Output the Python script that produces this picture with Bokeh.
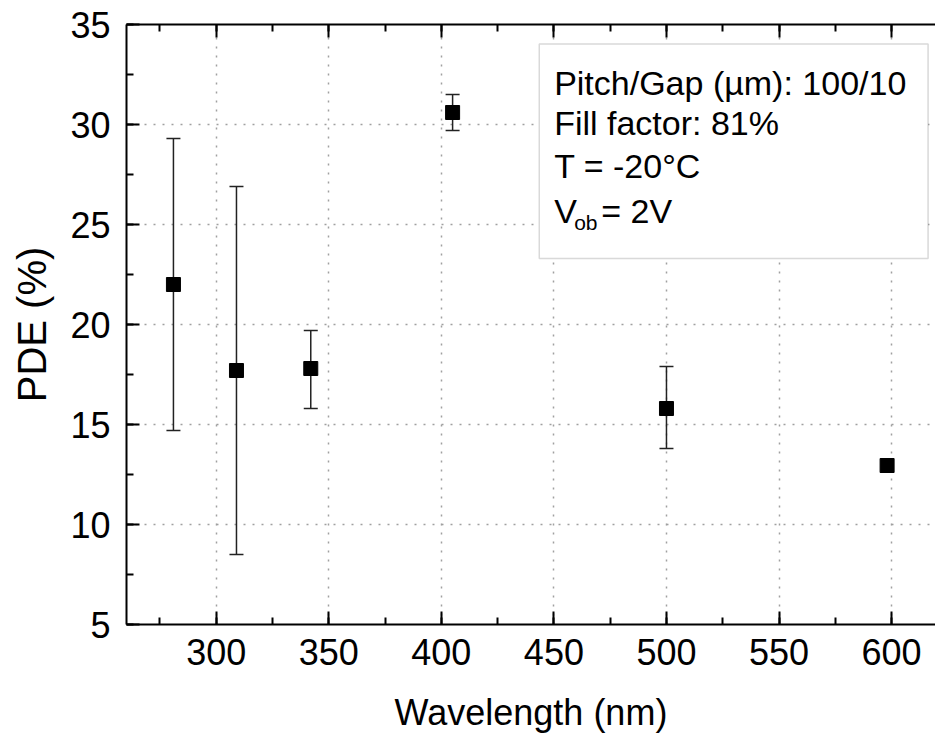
from bokeh.plotting import figure
from bokeh.models import (Range1d, LinearAxis, Whisker, ColumnDataSource, Label,
                          BoxAnnotation, SingleIntervalTicker, TeeHead)
from bokeh.embed import file_html
from bokeh.resources import INLINE

# ---- data ----
wavelength = [281, 309, 342, 405, 500, 598]
pde = [22.0, 17.7, 17.8, 30.6, 15.8, 12.95]
err_wl = [281, 309, 342, 405, 500]
err_upper = [29.3, 26.9, 19.7, 31.5, 17.9]
err_lower = [14.7, 8.5, 15.8, 29.7, 13.8]

info_lines = ["Pitch/Gap (µm): 100/10", "Fill factor: 81%", "T = -20°C"]

FONT = "Liberation Sans"

p = figure(width=935, height=735, output_backend="svg", toolbar_location=None,
           x_range=Range1d(260.15, 619.5), y_range=Range1d(5, 35),
           min_border_left=126, min_border_top=24, min_border_bottom=111,
           min_border_right=0)
p.outline_line_color = None
p.background_fill_color = "white"

xt = SingleIntervalTicker(interval=50, num_minor_ticks=2)
yt = SingleIntervalTicker(interval=5, num_minor_ticks=2)
p.xaxis.ticker = xt
p.yaxis.ticker = yt

for ax in (p.xaxis[0], p.yaxis[0]):
    ax.axis_line_width = 2
    ax.axis_line_color = "black"
    ax.major_tick_in = 13
    ax.major_tick_out = 0
    ax.minor_tick_in = 7
    ax.minor_tick_out = 0
    ax.major_tick_line_width = 2
    ax.minor_tick_line_width = 2
    ax.major_tick_line_color = "black"
    ax.minor_tick_line_color = "black"
    ax.major_label_text_font = FONT
    ax.major_label_text_font_size = "36px"
    ax.major_label_text_color = "black"
    ax.axis_label_text_font = FONT
    ax.axis_label_text_font_style = "normal"
    ax.axis_label_text_color = "black"

p.xaxis.axis_label = "Wavelength (nm)"
p.yaxis.axis_label = "PDE (%)"
p.xaxis.axis_label_text_font_size = "36px"
p.yaxis.axis_label_text_font_size = "40px"
p.xaxis.major_label_standoff = 14
p.xaxis.axis_label_standoff = 24
p.yaxis.major_label_standoff = 16
p.yaxis.axis_label_standoff = 13

top = LinearAxis(ticker=xt, axis_line_width=2, major_tick_in=13, major_tick_out=0,
                 minor_tick_in=7, minor_tick_out=0, major_tick_line_width=2,
                 minor_tick_line_width=2, major_label_text_font_size="8px",
                 major_label_text_color=None, major_label_standoff=0)
p.add_layout(top, "above")

for g in (p.xgrid[0], p.ygrid[0]):
    g.grid_line_color = "#a0a0a0"
    g.grid_line_dash = "2 7"
    g.grid_line_width = 1.5

src_err = ColumnDataSource(dict(x=err_wl, upper=err_upper, lower=err_lower))
wh = Whisker(base="x", upper="upper", lower="lower", source=src_err,
             line_color="#222222", line_width=1.5,
             upper_head=TeeHead(size=14, line_width=1.5, line_color="#222222"),
             lower_head=TeeHead(size=14, line_width=1.5, line_color="#222222"))
p.add_layout(wh)

src = ColumnDataSource(dict(x=wavelength, y=pde))
p.scatter("x", "y", source=src, marker="square", size=14, color="black")

box = BoxAnnotation(left=443.5, right=616.2, top=34.03, bottom=23.3,
                    fill_color="white", fill_alpha=1.0,
                    line_color="#808080", line_width=1.5)
p.add_layout(box)

base_ys = [32.1, 30.1, 27.95]
for txt, yy in zip(info_lines, base_ys):
    p.add_layout(Label(x=450.1, y=yy, text=txt, text_font=FONT, text_font_size="34px",
                       text_baseline="alphabetic", text_color="black"))
p.add_layout(Label(x=450.1, y=25.7, text="V", text_font=FONT, text_font_size="34px",
                   text_baseline="alphabetic", text_color="black"))
p.add_layout(Label(x=459.0, y=25.1, text="ob", text_font=FONT, text_font_size="21px",
                   text_baseline="alphabetic", text_color="black"))
p.add_layout(Label(x=471.0, y=25.7, text="= 2V", text_font=FONT, text_font_size="34px",
                   text_baseline="alphabetic", text_color="black"))

open("out.html", "w").write(file_html(p, INLINE))
